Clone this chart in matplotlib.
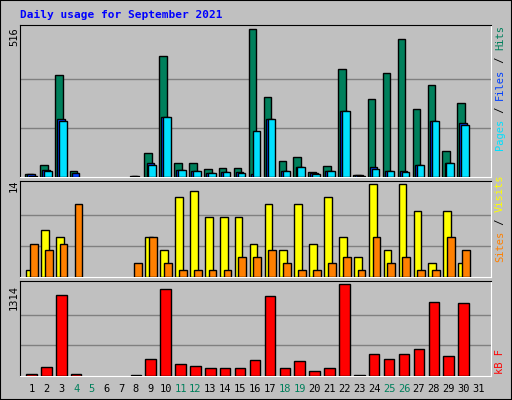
import numpy as np
import matplotlib.pyplot as plt
from matplotlib.patches import Rectangle

days = np.arange(1, 32)
hits = [12, 43, 358, 22, 0, 0, 0, 5, 85, 421, 50, 50, 29, 33, 33, 516,
        278, 57, 71, 19, 40, 379, 8, 274, 365, 481, 236, 323, 92, 260, 0]
files = [12, 26, 201, 15, 0, 0, 0, 4, 50, 211, 26, 22, 15, 19, 19, 12,
         201, 22, 36, 15, 22, 229, 6, 36, 22, 22, 43, 194, 50, 187, 0]
pages = [5, 22, 194, 0, 0, 0, 0, 0, 43, 211, 26, 22, 15, 19, 15, 162,
         201, 22, 36, 12, 22, 229, 2, 29, 22, 19, 43, 194, 50, 183, 0]
visits = [1, 7, 6, 0, 0, 0, 0, 0, 6, 4, 12, 13, 9, 9, 9, 5,
          11, 4, 11, 5, 12, 6, 3, 14, 4, 14, 10, 2, 10, 2, 0]
sites = [5, 4, 5, 11, 0, 0, 0, 2, 6, 2, 1, 1, 1, 1, 3, 3,
         4, 2, 1, 1, 2, 3, 1, 6, 2, 3, 1, 1, 6, 4, 0]
kbytes = [29, 134, 1156, 29, 0, 0, 0, 14, 249, 1242, 177, 149, 120, 120, 120, 235,
          1141, 120, 221, 77, 120, 1314, 14, 321, 249, 321, 393, 1055, 292, 1041, 0]
weekend = [4, 5, 11, 12, 18, 19, 25, 26]

BG = '#C0C0C0'
C_HITS, C_FILES, C_PAGES = '#00805C', '#0040FF', '#00E0FF'
C_VISITS, C_SITES, C_KB = '#FFFF00', '#FF8000', '#FF0000'
mono = 'DejaVu Sans Mono'

fig = plt.figure(figsize=(5.12, 4.0), dpi=100, facecolor=BG)
fig.patches.append(Rectangle((0, 0), 1, 1, transform=fig.transFigure,
                             fill=False, ec='black', lw=1.5))

W, H = 512.0, 400.0
def panel(top, bot):
    ax = fig.add_axes([20 / W, 1 - bot / H, 471 / W, (bot - top) / H])
    ax.set_facecolor(BG)
    ax.set_xlim(1 - 13 / 14.9, 31 + 11 / 14.9)
    ax.set_xticks([])
    ax.set_yticks([])
    for s in ['top', 'left']:
        ax.spines[s].set_color('black')
    for s in ['bottom', 'right']:
        ax.spines[s].set_color('white')
    return ax

def bars(ax, vals, off, w, color):
    v = np.array(vals, dtype=float)
    m = v > 0
    ax.bar(days[m] + off, v[m], width=w, color=color, ec='black', lw=1, zorder=3)

def grid(ax, top):
    for f in (1 / 3, 2 / 3):
        ax.axhline(top * f, color='#808080', lw=1, zorder=1)

# top panel
ax1 = panel(24.7, 177)
ax1.set_ylim(0, 532)
grid(ax1, 516)
bars(ax1, hits, -0.27, 0.5, C_HITS)
bars(ax1, files, -0.13, 0.5, C_FILES)
bars(ax1, pages, 0.0, 0.5, C_PAGES)

# middle panel
ax2 = panel(180.7, 276.5)
ax2.set_ylim(0, 14.55)
grid(ax2, 14)
bars(ax2, visits, -0.2, 0.52, C_VISITS)
bars(ax2, sites, 0.05, 0.52, C_SITES)

# bottom panel
ax3 = panel(280.7, 376)
ax3.set_ylim(0, 1366)
grid(ax3, 1314)
bars(ax3, kbytes, -0.1, 0.7, C_KB)

for d in days:
    ax3.text(d - 0.1, -0.08, str(d), transform=ax3.get_xaxis_transform(),
             ha='center', va='top', fontsize=7.5, family=mono,
             color=C_HITS if d in weekend else 'black')

fig.text(20 / W, 1 - 15 / H, 'Daily usage for September 2021', color='#0000FF',
         fontsize=8, family=mono, weight='bold', va='center')
for txt, y in (('516', 37), ('14', 186), ('1314', 298)):
    fig.text(14 / W, 1 - y / H, txt, rotation=90, fontsize=7.5, family=mono,
             ha='center', va='center')

renderer = fig.canvas.get_renderer()
def side(parts, y0):
    y = y0
    for txt, col in parts:
        t = fig.text(500 / W, 1 - y / H, txt, rotation=90, fontsize=7.5,
                     family=mono, color=col, ha='center', va='bottom',
                     rotation_mode='anchor' if False else 'default')
        y -= t.get_window_extent(renderer).height

side([('Pages', C_PAGES), (' / ', 'black'), ('Files', C_FILES),
      (' / ', 'black'), ('Hits', C_HITS)], 150)
side([('Sites', C_SITES), (' / ', 'black'), ('Visits', C_VISITS)], 262)
side([('kB F', C_KB)], 374)

fig.savefig('out.png', dpi=100, facecolor=BG)
